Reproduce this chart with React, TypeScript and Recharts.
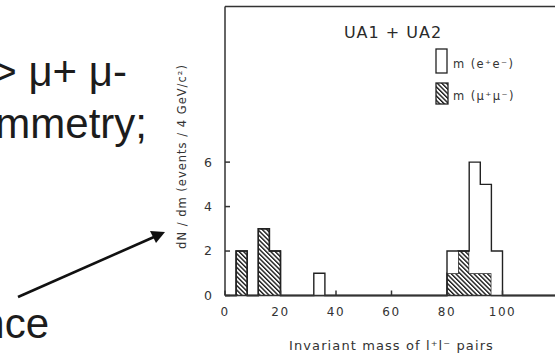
import React from "react";
import { Area, ComposedChart, Label, Legend, XAxis, YAxis } from "recharts";

// histogram bins (lower edge, GeV/c^2), 4 GeV wide; bins not listed are empty
const binStart = [4, 12, 16, 32, 80, 84, 88, 92, 96];
const muonCounts = [2, 3, 2, 0, 1, 2, 1, 1, 0];
const electronCounts = [0, 0, 0, 1, 1, 0, 5, 4, 2];
const binWidth = 4;

const xTicks = [0, 20, 40, 60, 80, 100];
const topTicks = [20];
const yTicks = [0, 2, 4, 6];
const rightTicks = [2, 4, 6];

const electronName = "m (e⁺e⁻)";
const muonName = "m (μ⁺μ⁻)";

const X_MAX = 120;
const Y_MAX = 13;

// one point per bin edge, drawn as a step so each bin becomes a box
const edges = Array.from({ length: X_MAX / binWidth + 1 }, (_, k) => k * binWidth);
const data = edges.map((x) => {
  const i = binStart.indexOf(x);
  return { mass: x, mu: i >= 0 ? muonCounts[i] : 0, e: i >= 0 ? electronCounts[i] : 0 };
});

const ink = "#222";
const axisFont = "'DejaVu Sans', sans-serif";

function HistLegend() {
  return (
    <div style={{ fontFamily: axisFont, fontSize: 11.5, letterSpacing: 1.4, color: "#333", lineHeight: 1 }}>
      <div style={{ display: "flex", alignItems: "flex-end", height: 26 }}>
        <svg width={14} height={26}>
          <rect x={1} y={1} width={11} height={24} fill="#fff" stroke={ink} strokeWidth={1.3} />
        </svg>
        <span style={{ marginLeft: 4, marginBottom: 4 }}>{electronName}</span>
      </div>
      <div style={{ display: "flex", alignItems: "flex-end", height: 23, marginTop: 8 }}>
        <svg width={14} height={23}>
          <rect x={1} y={1} width={12} height={21} fill="url(#hatch)" stroke={ink} strokeWidth={1.3} />
        </svg>
        <span style={{ marginLeft: 4, marginBottom: 3 }}>{muonName}</span>
      </div>
    </div>
  );
}

function YTitle({ viewBox }: any) {
  const cx = viewBox.x + viewBox.width / 2;
  const cy = viewBox.y + viewBox.height / 2 + 5.5;
  return (
    <text
      x={cx}
      y={cy}
      transform={`rotate(-90 ${cx} ${cy})`}
      textAnchor="middle"
      dominantBaseline="central"
      fill="#333"
      fontSize={11.5}
      letterSpacing={1}
    >
      dN / dm (events / 4 GeV/c²)
    </text>
  );
}

export default function App() {
  return (
    <div
      style={{
        position: "absolute",
        left: 0,
        top: 0,
        width: 555,
        height: 355,
        overflow: "hidden",
        background: "#fff",
        fontFamily: axisFont,
      }}
    >
      <svg width={555} height={355} style={{ position: "absolute", left: 0, top: 0 }}>
        <g fontFamily="'Liberation Sans', Arial, sans-serif" fontSize={42} fill="#1c1c1c" textAnchor="end">
          <text x={127} y={86}>-&gt; μ+ μ-</text>
          <text x={147} y={138}>asymmetry;</text>
          <text x={49} y={338}>ance</text>
        </g>
        <line x1={18} y1={297} x2={154} y2={237} stroke="#111" strokeWidth={2.6} />
        <polygon points="165,232 150,231 156,243" fill="#111" />
      </svg>
      <div style={{ position: "absolute", left: 0, top: 0 }}>
        <ComposedChart width={560} height={355} data={data} margin={{ top: 5.5, right: 0, bottom: 0, left: 139 }}>
          <defs>
            <pattern id="hatch" patternUnits="userSpaceOnUse" width={3.2} height={10} patternTransform="rotate(-45)">
              <rect width={3.2} height={10} fill="#fff" />
              <line x1={0.7} y1={0} x2={0.7} y2={10} stroke="#1a1a1a" strokeWidth={1.4} />
            </pattern>
          </defs>
          <XAxis
            dataKey="mass"
            type="number"
            domain={[0, X_MAX]}
            ticks={xTicks}
            interval={0}
            height={59.5}
            tickSize={-5}
            tickMargin={17}
            stroke="#333"
            strokeWidth={1.5}
            tick={{ fill: "#333", fontSize: 12, letterSpacing: 1.5 }}
          >
            <Label
              value="Invariant mass of l⁺l⁻ pairs"
              position="insideBottom"
              offset={5}
              fill="#333"
              fontSize={13}
              letterSpacing={1.1}
            />
          </XAxis>
          <XAxis
            xAxisId="top"
            orientation="top"
            dataKey="mass"
            type="number"
            domain={[0, X_MAX]}
            ticks={topTicks}
            height={1}
            tick={false}
            tickSize={-5}
            stroke="#333"
            strokeWidth={1.5}
          />
          <YAxis
            type="number"
            domain={[0, Y_MAX]}
            ticks={yTicks}
            interval={0}
            width={86}
            tickSize={-5}
            tickMargin={16.5}
            stroke="#333"
            strokeWidth={1.5}
            tick={{ fill: "#333", fontSize: 12.5, letterSpacing: 1.5 }}
          >
            <Label content={YTitle} />
          </YAxis>
          <YAxis
            yAxisId="r"
            orientation="right"
            type="number"
            domain={[0, Y_MAX]}
            ticks={rightTicks}
            width={2}
            tick={false}
            tickSize={-5}
            stroke="#333"
            strokeWidth={1.5}
          />
          <Legend
            layout="vertical"
            align="center"
            verticalAlign="middle"
            content={() => <HistLegend />}
            wrapperStyle={{ left: 435, top: 48, width: 100 }}
          />
          <text x={393} y={38} textAnchor="middle" fontSize={16} fill="#2a2a2a" letterSpacing={1}>
            UA1 + UA2
          </text>
          <Area
            type="stepAfter"
            dataKey="mu"
            name={muonName}
            stackId="h"
            fill="url(#hatch)"
            fillOpacity={1}
            stroke={ink}
            strokeWidth={1.4}
            dot={false}
            activeDot={false}
            isAnimationActive={false}
          />
          <Area
            type="stepAfter"
            dataKey="e"
            name={electronName}
            stackId="h"
            fill="#fff"
            fillOpacity={1}
            stroke={ink}
            strokeWidth={1.4}
            dot={false}
            activeDot={false}
            isAnimationActive={false}
          />
        </ComposedChart>
      </div>
    </div>
  );
}
